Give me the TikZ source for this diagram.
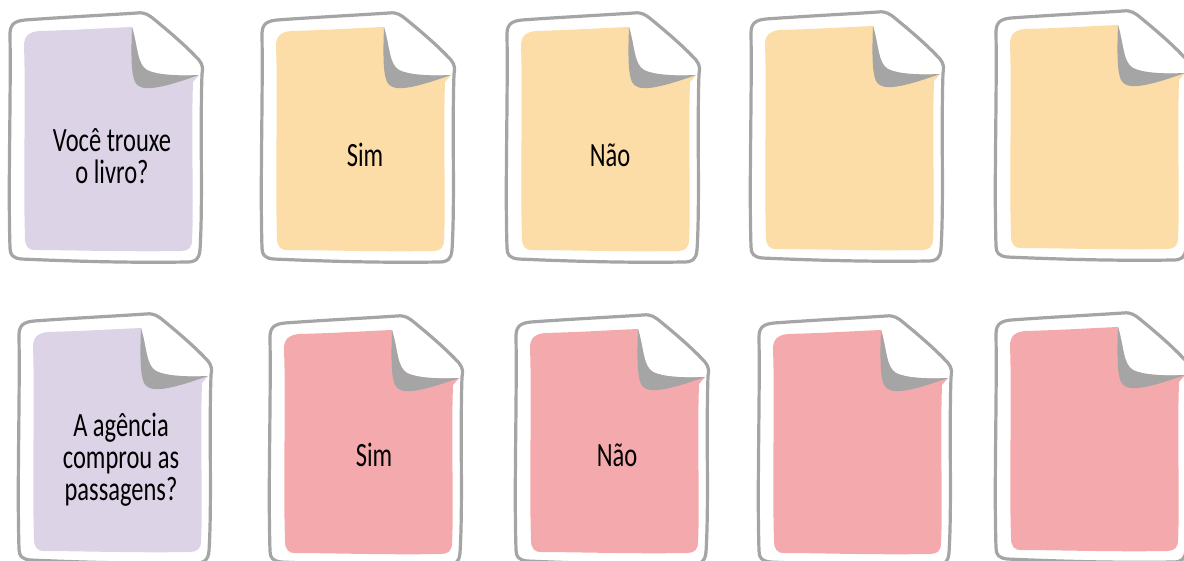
\documentclass[tikz,border=0pt]{standalone}
\usepackage{fontspec}
\setmainfont{Carlito}[FakeStretch=0.72]
\usepackage{tikz}
\usepackage{xcolor}
\usetikzlibrary{arrows.meta}
\definecolor{lilas}{HTML}{DDD3E7}
\definecolor{laranja}{HTML}{FDDDA7}
\definecolor{rosa}{HTML}{F4AAAD}
\definecolor{cinza}{HTML}{A5A5A5}
\tikzset{
  texto/.style={align=center,text=black,inner sep=0pt,font=\fontsize{34}{32}\selectfont},
  pics/cartao/.style={code={
    \draw[cinza,line width=3.2pt,fill=white,line join=round]
      (3,22)..controls(3,12)and(8,9)..(18,8)..controls(60,5)and(100,3)..(130,1)
      ..controls(138,0)and(142,3)..(148,8)..controls(165,22)and(180,35)..(192,48)
      ..controls(196,53)and(196,57)..(195,62)..controls(193,120)and(196,190)..(193,238)
      ..controls(192,248)and(188,250)..(180,250)..controls(120,251)and(60,249)..(14,247)
      ..controls(6,246)and(3,243)..(3,236)..controls(1,170)and(4,90)..(3,22)--cycle;
    \fill[#1](17,34)..controls(17,24)and(22,20)..(32,19)..controls(70,18)and(100,16)..(125,15)
      ..controls(131,35)and(130,52)..(140,58)..controls(150,63)and(170,64)..(192,63)
      --(186,70)..controls(184,130)and(187,190)..(185,228)
      ..controls(185,236)and(181,239)..(174,239)..controls(120,240)and(60,238)..(28,238)
      ..controls(21,238)and(18,234)..(18,226)..controls(16,160)and(19,90)..(17,34)--cycle;
    \fill[cinza](125,15)..controls(124,40)and(124,62)..(128,70)
      ..controls(133,80)and(150,78)..(192,63)..controls(170,64)and(150,63)..(140,58)
      ..controls(130,52)and(131,35)..(125,15)--cycle;
  }}
}
\begin{document}
\begin{tikzpicture}[x=1pt,y=-1pt]
\useasboundingbox(0,0)rectangle(1184,561);
\clip(0,0)rectangle(1184,561);
\pic at(7,12){cartao=lilas};
\pic at(259,12){cartao=laranja};
\pic at(504,12){cartao=laranja};
\pic at(748,11){cartao=laranja};
\pic at(993,10){cartao=laranja};
\pic at(16,313){cartao=lilas};
\pic at(267,315){cartao=rosa};
\pic at(513,314){cartao=rosa};
\pic at(756,315){cartao=rosa};
\pic at(993,312){cartao=rosa};
\node[texto](pergunta1)at(112,156){Você trouxe\\o livro?};
\node[texto](sim1)at(365,155){Sim};
\node[texto](nao1)at(610,155){Não};
\node[texto](pergunta2)at(121,460){A agência\\comprou as\\passagens?};
\node[texto](sim2)at(374,455){Sim};
\node[texto](nao2)at(617,455){Não};
\end{tikzpicture}
\end{document}
